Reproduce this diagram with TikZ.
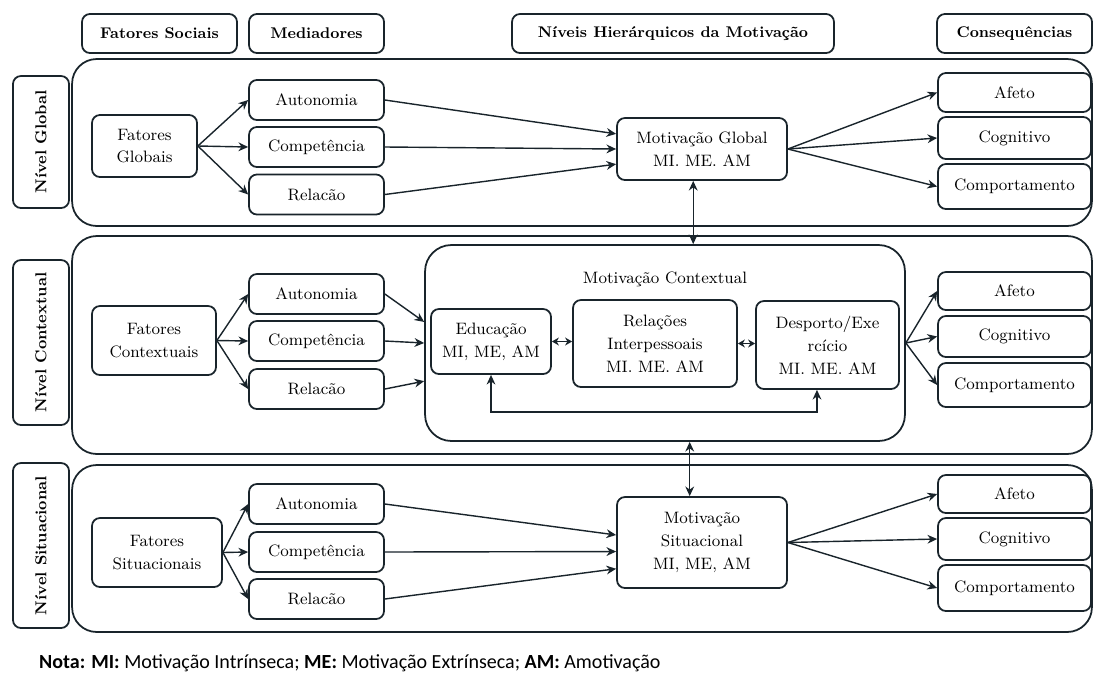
\documentclass[tikz,border=0pt]{standalone}
\usepackage{fontspec}
\usepackage{tikz}
\usetikzlibrary{arrows.meta, positioning, calc}
\newfontfamily\notafont{Carlito}
\definecolor{mydark}{rgb}{0.10, 0.14, 0.17}
\tikzstyle{hdr} = [draw=mydark, line width=1pt, rounded corners=4.5pt, minimum height=0.78cm, inner sep=0pt, text=black, font=\fontsize{8.8}{11}\selectfont\bfseries]
\tikzstyle{box} = [draw=mydark, line width=1pt, rounded corners=4.5pt, inner sep=0pt, align=center, text=black, font=\fontsize{9.4}{13}\selectfont]
\tikzstyle{lab} = [box, rotate=90, minimum height=1.12cm, font=\fontsize{9}{11}\selectfont\bfseries]
\tikzstyle{med} = [box, minimum width=2.7cm, minimum height=0.8cm]
\tikzstyle{cons} = [box, minimum width=3.06cm]
\tikzstyle{level} = [draw=mydark, line width=1pt, rounded corners=14pt, minimum width=20.4cm]
\tikzstyle{arrow} = [line width=0.8pt, draw=mydark, ->]
\tikzstyle{short} = [line width=0.8pt, draw=mydark, {Stealth[length=4pt,width=4.5pt]}-{Stealth[length=4pt,width=4.5pt]}]

\begin{document}
\begin{tikzpicture}[x=0.02cm, y=-0.02cm, >={Stealth[length=5.5pt,width=5pt]}]
\useasboundingbox (0,0) rectangle (1094,673);

% column headers
\node[hdr, minimum width=3.1cm] (hsoc) at (159.5,33.5) {Fatores Sociais};
\node[hdr, minimum width=2.7cm] (hmed) at (316.5,33.5) {Mediadores};
\node[hdr, minimum width=6.44cm] (hniv) at (673,33.5) {Níveis Hierárquicos da Motivação};
\node[hdr, minimum width=3.1cm] (hcon) at (1014.5,33.5) {Consequências};

% level frames
\node[level, minimum height=3.34cm] (lvg) at (582,142.5) {};
\node[level, minimum height=4.36cm] (lvc) at (582,345) {};
\node[level, minimum height=3.34cm] (lvs) at (582,548.5) {};

\node[lab, minimum width=2.64cm] (ng) at (41,142) {Nível Global};
\node[lab, minimum width=3.3cm] (nc) at (41,342.5) {Nível Contextual};
\node[lab, minimum width=3.3cm] (ns) at (41,545.5) {Nível Situacional};

% global level
\node[box, minimum width=2.1cm, minimum height=1.24cm] (fg) at (144.5,146) {Fatores\\Globais};
\node[med] (ga) at (316.5,100) {Autonomia};
\node[med] (gc) at (316.5,147) {Competência};
\node[med] (gr) at (316.5,194.5) {Relacão};
\node[box, minimum width=3.4cm, minimum height=1.24cm] (mg) at (702,149) {Motivação Global\\MI. ME. AM};
\node[cons, minimum height=0.78cm] (afg) at (1014.5,92.5) {Afeto};
\node[cons, minimum height=0.84cm] (cog) at (1014.5,138) {Cognitivo};
\node[cons, minimum height=0.9cm] (cpg) at (1014.5,186.5) {Comportamento};

\draw[arrow] (fg.east) -- (ga.west);
\draw[arrow] (fg.east) -- (gc.west);
\draw[arrow] (fg.east) -- (gr.west);
\draw[arrow] (ga.east) -- (mg.170);
\draw[arrow] (gc.east) -- (mg.west);
\draw[arrow] (gr.east) -- (mg.190);
\draw[arrow] (mg.east) -- (afg.west);
\draw[arrow] (mg.east) -- (cog.west);
\draw[arrow] (mg.east) -- (cpg.west);

% contextual level
\node[box, minimum width=2.48cm, minimum height=1.38cm] (fc) at (154,340.5) {Fatores\\Contextuais};
\node[med] (ca) at (316.5,294) {Autonomia};
\node[med] (cc) at (316.5,341) {Competência};
\node[med] (cr) at (316.5,389) {Relacão};
\node[box, rounded corners=15pt, minimum width=9.6cm, minimum height=3.92cm] (mc) at (665,343) {};
\node[font=\fontsize{9.4}{11}\selectfont] (mctitle) at (665,279) {Motivação Contextual};
\node[box, minimum width=2.4cm, minimum height=1.3cm] (edu) at (491,341.5) {Educação\\MI, ME, AM};
\node[box, minimum width=3.28cm, minimum height=1.74cm] (rel) at (655,343.5) {Relações\\Interpessoais\\MI. ME. AM};
\node[box, minimum width=2.86cm, minimum height=1.76cm] (des) at (827.5,345) {Desporto/Exe\\rcício\\MI. ME. AM};
\node[cons, minimum height=0.76cm] (afc) at (1014.5,291) {Afeto};
\node[cons, minimum height=0.82cm] (coc) at (1014.5,336.5) {Cognitivo};
\node[cons, minimum height=0.88cm] (cpc) at (1014.5,385) {Comportamento};

\draw[arrow] (fc.east) -- (ca.west);
\draw[arrow] (fc.east) -- (cc.west);
\draw[arrow] (fc.east) -- (cr.west);
\draw[arrow] (ca.east) -- (mc.175);
\draw[arrow] (cc.east) -- (mc.west);
\draw[arrow] (cr.east) -- (mc.189);
\draw[short] (edu.east) -- (edu.east -| rel.west);
\draw[short] (rel.east) -- (rel.east -| des.west);
\draw[arrow, <->] (edu.south) -- ++(0,37) -| ([xshift=-6pt]des.south);
\draw[arrow] (mc.east) -- (afc.west);
\draw[arrow] (mc.east) -- (coc.west);
\draw[arrow] (mc.east) -- (cpc.west);

% situational level
\node[box, minimum width=2.6cm, minimum height=1.38cm] (fs) at (157,552.5) {Fatores\\Situacionais};
\node[med] (sa) at (316.5,504) {Autonomia};
\node[med] (sc) at (316.5,552) {Competência};
\node[med] (sr) at (316.5,599) {Relacão};
\node[box, minimum width=3.4cm, minimum height=1.82cm] (ms) at (702,542.5) {Motivação\\Situacional\\MI, ME, AM};
\node[cons, minimum height=0.76cm] (afs) at (1014.5,494) {Afeto};
\node[cons, minimum height=0.84cm] (cos) at (1014.5,539) {Cognitivo};
\node[cons, minimum height=0.92cm] (cps) at (1014.5,588) {Comportamento};

\draw[arrow] (fs.east) -- (sa.west);
\draw[arrow] (fs.east) -- (sc.west);
\draw[arrow] (fs.east) -- (sr.west);
\draw[arrow] (sa.east) -- (ms.175);
\draw[arrow] (sc.east) -- (ms.186);
\draw[arrow] (sr.east) -- (ms.197);
\draw[arrow] (ms.east) -- (afs.west);
\draw[arrow] (ms.east) -- (cos.west);
\draw[arrow] (ms.east) -- (cps.west);

% links between levels
\coordinate (mgfoot) at ([xshift=-5pt]mg.south);
\coordinate (mshead) at ([xshift=-7pt]ms.north);
\draw[arrow, <->] (mgfoot) -- (mgfoot |- mc.north);
\draw[arrow, <->] (mshead |- mc.south) -- (mshead);

\node[anchor=base west, text=black, font=\notafont\fontsize{11.4}{13}\selectfont] (nota) at (33,668)
{\textbf{Nota: MI:} Motivação Intrínseca; \textbf{ME:} Motivação Extrínseca; \textbf{AM:} Amotivação};
\end{tikzpicture}
\end{document}
